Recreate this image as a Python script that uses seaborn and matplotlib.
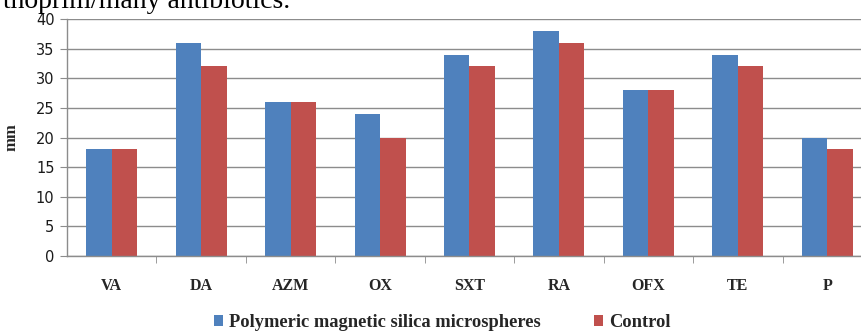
import matplotlib
matplotlib.use("Agg")
from matplotlib import pyplot as plt
from matplotlib.ticker import FixedLocator
import numpy as np
import pandas as pd
import seaborn as sns

sns.set_style("white")

antibiotics = ["VA", "DA", "AZM", "OX", "SXT", "RA", "OFX", "TE", "P"]
microspheres = [18, 36, 26, 24, 34, 38, 28, 34, 20]
control = [18, 32, 26, 20, 32, 36, 28, 32, 18]
series_names = ["Polymeric magnetic silica microspheres", "Control"]
yticks = [0, 5, 10, 15, 20, 25, 30, 35, 40]

df = pd.DataFrame({
    "antibiotic": antibiotics * 2,
    "mm": microspheres + control,
    "series": [series_names[0]] * len(antibiotics) + [series_names[1]] * len(antibiotics),
})

fig = plt.figure(figsize=(8.61, 3.31), dpi=100)
ax = fig.add_axes([67 / 861, 1 - 256 / 331, 805 / 861, 237 / 331])

sns.barplot(
    data=df, x="antibiotic", y="mm", hue="series", hue_order=series_names,
    palette=["#4F81BD", "#C0504D"], width=0.57, saturation=1, ax=ax,
    edgecolor="none", legend=True,
)

ax.set_xlim(-0.5, len(antibiotics) - 0.5)
ax.set_ylim(0, 40)
ax.set_yticks(yticks)
ax.yaxis.grid(True, color="#8c8c8c", linewidth=1)
ax.set_axisbelow(True)
for s in ["top", "right"]:
    ax.spines[s].set_visible(False)
for s in ["left", "bottom"]:
    ax.spines[s].set_color("#8c8c8c")
    ax.spines[s].set_linewidth(1)

ax.tick_params(axis="y", which="major", left=True, length=5, color="#8c8c8c",
               labelsize=10.5, labelcolor="#1a1a1a", pad=4)
ax.tick_params(axis="x", which="major", bottom=False, labelsize=11.5, pad=12)
ax.xaxis.set_minor_locator(FixedLocator(np.arange(0.5, len(antibiotics) - 0.5, 1)))
ax.tick_params(axis="x", which="minor", bottom=True, length=5, color="#8c8c8c")
for lab in ax.get_xticklabels():
    lab.set_fontfamily("Liberation Serif")
    lab.set_fontweight("bold")

ax.set_xlabel("")
ax.set_ylabel("mm", fontfamily="Liberation Serif", fontweight="bold", fontsize=12, labelpad=12)

ax.legend(
    loc="center", bbox_to_anchor=(0.466, -0.28), ncol=2, frameon=False,
    prop={"family": "Liberation Serif", "weight": "bold", "size": 13.3},
    handlelength=0.5, handleheight=0.5, handletextpad=0.3, columnspacing=2.9,
)

fig.text(290 / 861, 1 - 8 / 331, "thoprim/many antibiotics.", ha="right", va="baseline",
         fontfamily="Liberation Serif", fontsize=20, color="black")

fig.savefig("out.png", dpi=100)
